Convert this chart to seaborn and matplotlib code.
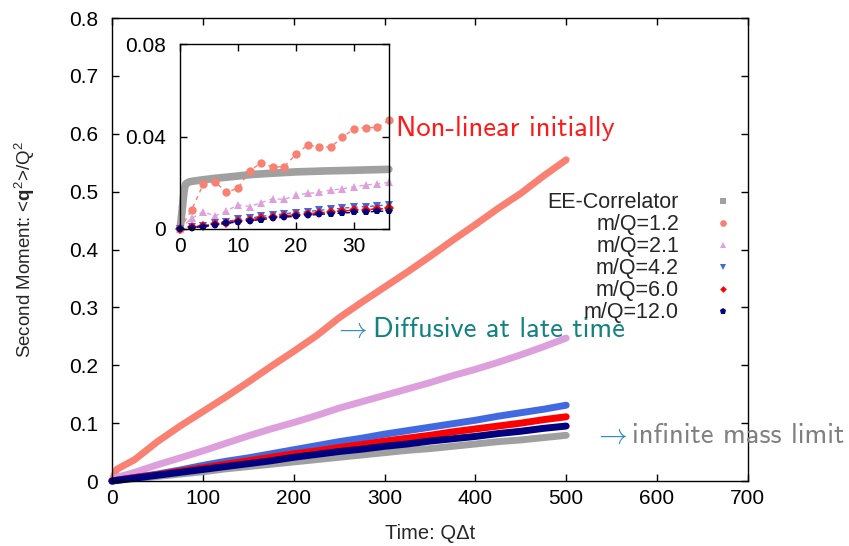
import numpy as np
import pandas as pd
import seaborn as sns
import matplotlib.pyplot as plt
from matplotlib.lines import Line2D

# main panel: time and second moment
main_t = [0, 5, 25, 50, 75, 100, 125, 150, 175, 200, 225, 250,
          275, 300, 325, 350, 375, 400, 425, 450, 475, 500]
ee_main = [0, 0.001, 0.004, 0.008, 0.012, 0.016, 0.021, 0.025, 0.029, 0.033, 0.037,
           0.041, 0.045, 0.049, 0.053, 0.056, 0.060, 0.064, 0.068, 0.071, 0.075, 0.079]
m12_main = [0, 0.020, 0.037, 0.068, 0.095, 0.120, 0.145, 0.171, 0.198, 0.224, 0.251,
            0.282, 0.309, 0.335, 0.361, 0.388, 0.416, 0.443, 0.471, 0.497, 0.527, 0.555]
m21_main = [0, 0.006, 0.015, 0.028, 0.040, 0.052, 0.065, 0.078, 0.090, 0.101, 0.113,
            0.126, 0.137, 0.148, 0.159, 0.170, 0.182, 0.193, 0.205, 0.218, 0.232, 0.247]
m42_main = [0, 0.0015, 0.006, 0.012, 0.019, 0.027, 0.034, 0.040, 0.047, 0.054, 0.061,
            0.068, 0.074, 0.081, 0.087, 0.093, 0.099, 0.105, 0.112, 0.118, 0.124, 0.131]
m60_main = [0, 0.0013, 0.006, 0.011, 0.017, 0.023, 0.029, 0.035, 0.041, 0.047, 0.052,
            0.058, 0.063, 0.069, 0.074, 0.079, 0.085, 0.090, 0.095, 0.100, 0.106, 0.111]
m120_main = [0, 0.001, 0.005, 0.010, 0.015, 0.020, 0.025, 0.030, 0.035, 0.041, 0.046,
             0.051, 0.055, 0.060, 0.064, 0.069, 0.073, 0.077, 0.082, 0.086, 0.091, 0.095]

# inset: early times
inset_t = [0, 2, 4, 6, 8, 10, 12, 14, 16, 18, 20, 22, 24, 26, 28, 30, 32, 34, 36]
m12_in = [0, 0.0082, 0.0193, 0.0205, 0.0159, 0.0176, 0.0251, 0.0287, 0.0267, 0.0270,
          0.0324, 0.0363, 0.0355, 0.0355, 0.0396, 0.0434, 0.0438, 0.0439, 0.0471]
m21_in = [0, 0.0046, 0.0075, 0.0056, 0.0078, 0.0104, 0.0097, 0.0114, 0.0131, 0.0128,
          0.0147, 0.0154, 0.0158, 0.0169, 0.0173, 0.0183, 0.0190, 0.0195, 0.0202]
m42_in = [0, 0.0010, 0.0014, 0.0024, 0.0032, 0.0042, 0.0046, 0.0055, 0.0060, 0.0066,
          0.0071, 0.0075, 0.0081, 0.0085, 0.0090, 0.0094, 0.0097, 0.0100, 0.0105]
m60_in = [0, 0.0008, 0.0012, 0.0020, 0.0028, 0.0036, 0.0040, 0.0047, 0.0052, 0.0057,
          0.0062, 0.0066, 0.0070, 0.0074, 0.0078, 0.0081, 0.0084, 0.0086, 0.0089]
m120_in = [0, 0.0006, 0.0010, 0.0017, 0.0024, 0.0031, 0.0035, 0.0041, 0.0046, 0.0051,
           0.0055, 0.0059, 0.0063, 0.0066, 0.0069, 0.0072, 0.0074, 0.0076, 0.0078]
ee_in_t = [0, 0.2, 0.4, 0.6, 0.8, 1.0, 1.5, 2, 4, 6, 8, 10, 12, 15, 20, 25, 30, 36]
ee_in = [0, 0.004, 0.009, 0.014, 0.018, 0.0195, 0.0203, 0.0206, 0.0213, 0.0219,
         0.0224, 0.0229, 0.0235, 0.0240, 0.0247, 0.0251, 0.0254, 0.0258]

names = ['EE-Correlator', 'm/Q=1.2', 'm/Q=2.1', 'm/Q=4.2', 'm/Q=6.0', 'm/Q=12.0']
colors = ['#a0a0a0', '#fa8072', '#dda0dd', '#4169e1', '#ff0000', '#000080']
markers = ['s', 'o', '^', 'v', 'D', 'p']
msizes = [4.8, 4.8, 4.8, 4.8, 3.4, 4.5]

xticks = [0, 100, 200, 300, 400, 500, 600, 700]
yticks = [0, 0.1, 0.2, 0.3, 0.4, 0.5, 0.6, 0.7, 0.8]
ytick_labels = ['0', '0.1', '0.2', '0.3', '0.4', '0.5', '0.6', '0.7', '0.8']
in_xticks = [0, 10, 20, 30]
in_yticks = [0, 0.04, 0.08]
in_ytick_labels = ['0', '0.04', '0.08']

sns.set_theme(style='ticks')
plt.rcParams['font.family'] = ['Liberation Sans', 'DejaVu Sans']
plt.rcParams['mathtext.fontset'] = 'custom'
plt.rcParams['mathtext.rm'] = 'Liberation Sans'
plt.rcParams['mathtext.bf'] = 'Liberation Sans:bold'
plt.rcParams['mathtext.it'] = 'Liberation Sans:italic'

main_df = pd.DataFrame({
    't': main_t * 6,
    'v': ee_main + m12_main + m21_main + m42_main + m60_main + m120_main,
    'series': np.repeat(names, len(main_t)),
})

fig = plt.figure(figsize=(8.49, 5.46), dpi=100)
ax = fig.add_axes([0.1319, 0.119, 0.749, 0.848])
sns.lineplot(data=main_df, x='t', y='v', hue='series', hue_order=names,
             palette=dict(zip(names, colors)), linewidth=5, sort=False,
             legend=False, ax=ax)
for ln in ax.lines:
    ln.set_clip_on(False)
    ln.set_solid_capstyle('round')

ax.set_xlim(0, 700)
ax.set_ylim(0, 0.8)
ax.set_xticks(xticks)
ax.set_xticklabels([str(x) for x in xticks])
ax.set_yticks(yticks)
ax.set_yticklabels(ytick_labels)
for sp in ax.spines.values():
    sp.set_visible(True)
    sp.set_color('black')
    sp.set_linewidth(1.0)
ax.tick_params(direction='in', top=True, right=True, length=5, width=1,
               labelsize=15, colors='black')
ax.tick_params(axis='x', pad=6)
ax.tick_params(axis='y', pad=10)
ax.set_xlabel('Time: Q\u0394t', fontsize=14.5)
ax.set_ylabel(r'Second Moment: <$\mathbf{q}^2$>/Q$^2$', fontsize=13.5)
ax.xaxis.set_label_coords(0.5, -0.093)
ax.yaxis.set_label_coords(-0.118, 0.5)

handles = [Line2D([], [], color=c, marker=m, linestyle='none', markersize=s,
                  markeredgewidth=0)
           for c, m, s in zip(colors, markers, msizes)]
ax.legend(handles, names, loc='upper right', bbox_to_anchor=(0.978, 0.624),
          frameon=False, markerfirst=False, fontsize=15.5, borderpad=0,
          borderaxespad=0, labelspacing=0.05, handlelength=1.0,
          handletextpad=1.55)

# annotations
ann_size = 20.6
ax.text(312.6, 0.596, 'Non-linear initially', color='#ff1a1a',
        family='cmss10', fontsize=ann_size, va='baseline')
ax.text(243.2, 0.2493, r'$\rightarrow$', color='#2e8bd0', math_fontfamily='cm',
        fontsize=ann_size, va='baseline')
ax.text(287.3, 0.2493, 'Diffusive at late time', color='#138282',
        family='cmss10', fontsize=ann_size, va='baseline')
ax.text(529.4, 0.0662, r'$\rightarrow$', color='#2e8bd0', math_fontfamily='cm',
        fontsize=ann_size, va='baseline')
ax.text(572.3, 0.0662, 'infinite mass limit', color='#808080',
        family='cmss10', fontsize=ann_size, va='baseline')

# inset
ax_in = fig.add_axes([0.212, 0.5806, 0.246, 0.3388])
sns.lineplot(x=ee_in_t, y=ee_in, color=colors[0], linewidth=5.5, sort=False, ax=ax_in)
inset_series = [m12_in, m21_in, m42_in, m60_in, m120_in]
for vals, c, m, s in zip(inset_series, colors[1:], markers[1:], msizes[1:]):
    sns.lineplot(x=inset_t, y=vals, color=c, marker=m, markersize=s + 1.2,
                 markeredgewidth=0, linewidth=1.0, linestyle=(0, (3, 3)),
                 sort=False, ax=ax_in)
for ln in ax_in.lines:
    ln.set_clip_on(False)

ax_in.set_xlim(0, 36)
ax_in.set_ylim(0, 0.08)
ax_in.set_xticks(in_xticks)
ax_in.set_xticklabels([str(x) for x in in_xticks])
ax_in.set_yticks(in_yticks)
ax_in.set_yticklabels(in_ytick_labels)
for sp in ax_in.spines.values():
    sp.set_visible(True)
    sp.set_color('black')
    sp.set_linewidth(1.0)
ax_in.tick_params(direction='in', top=True, right=True, length=5, width=1,
                  labelsize=15, colors='black')
ax_in.tick_params(axis='x', pad=6)
ax_in.tick_params(axis='y', pad=10)
ax_in.set_xlabel('')
ax_in.set_ylabel('')

fig.savefig('out.png', dpi=100)
